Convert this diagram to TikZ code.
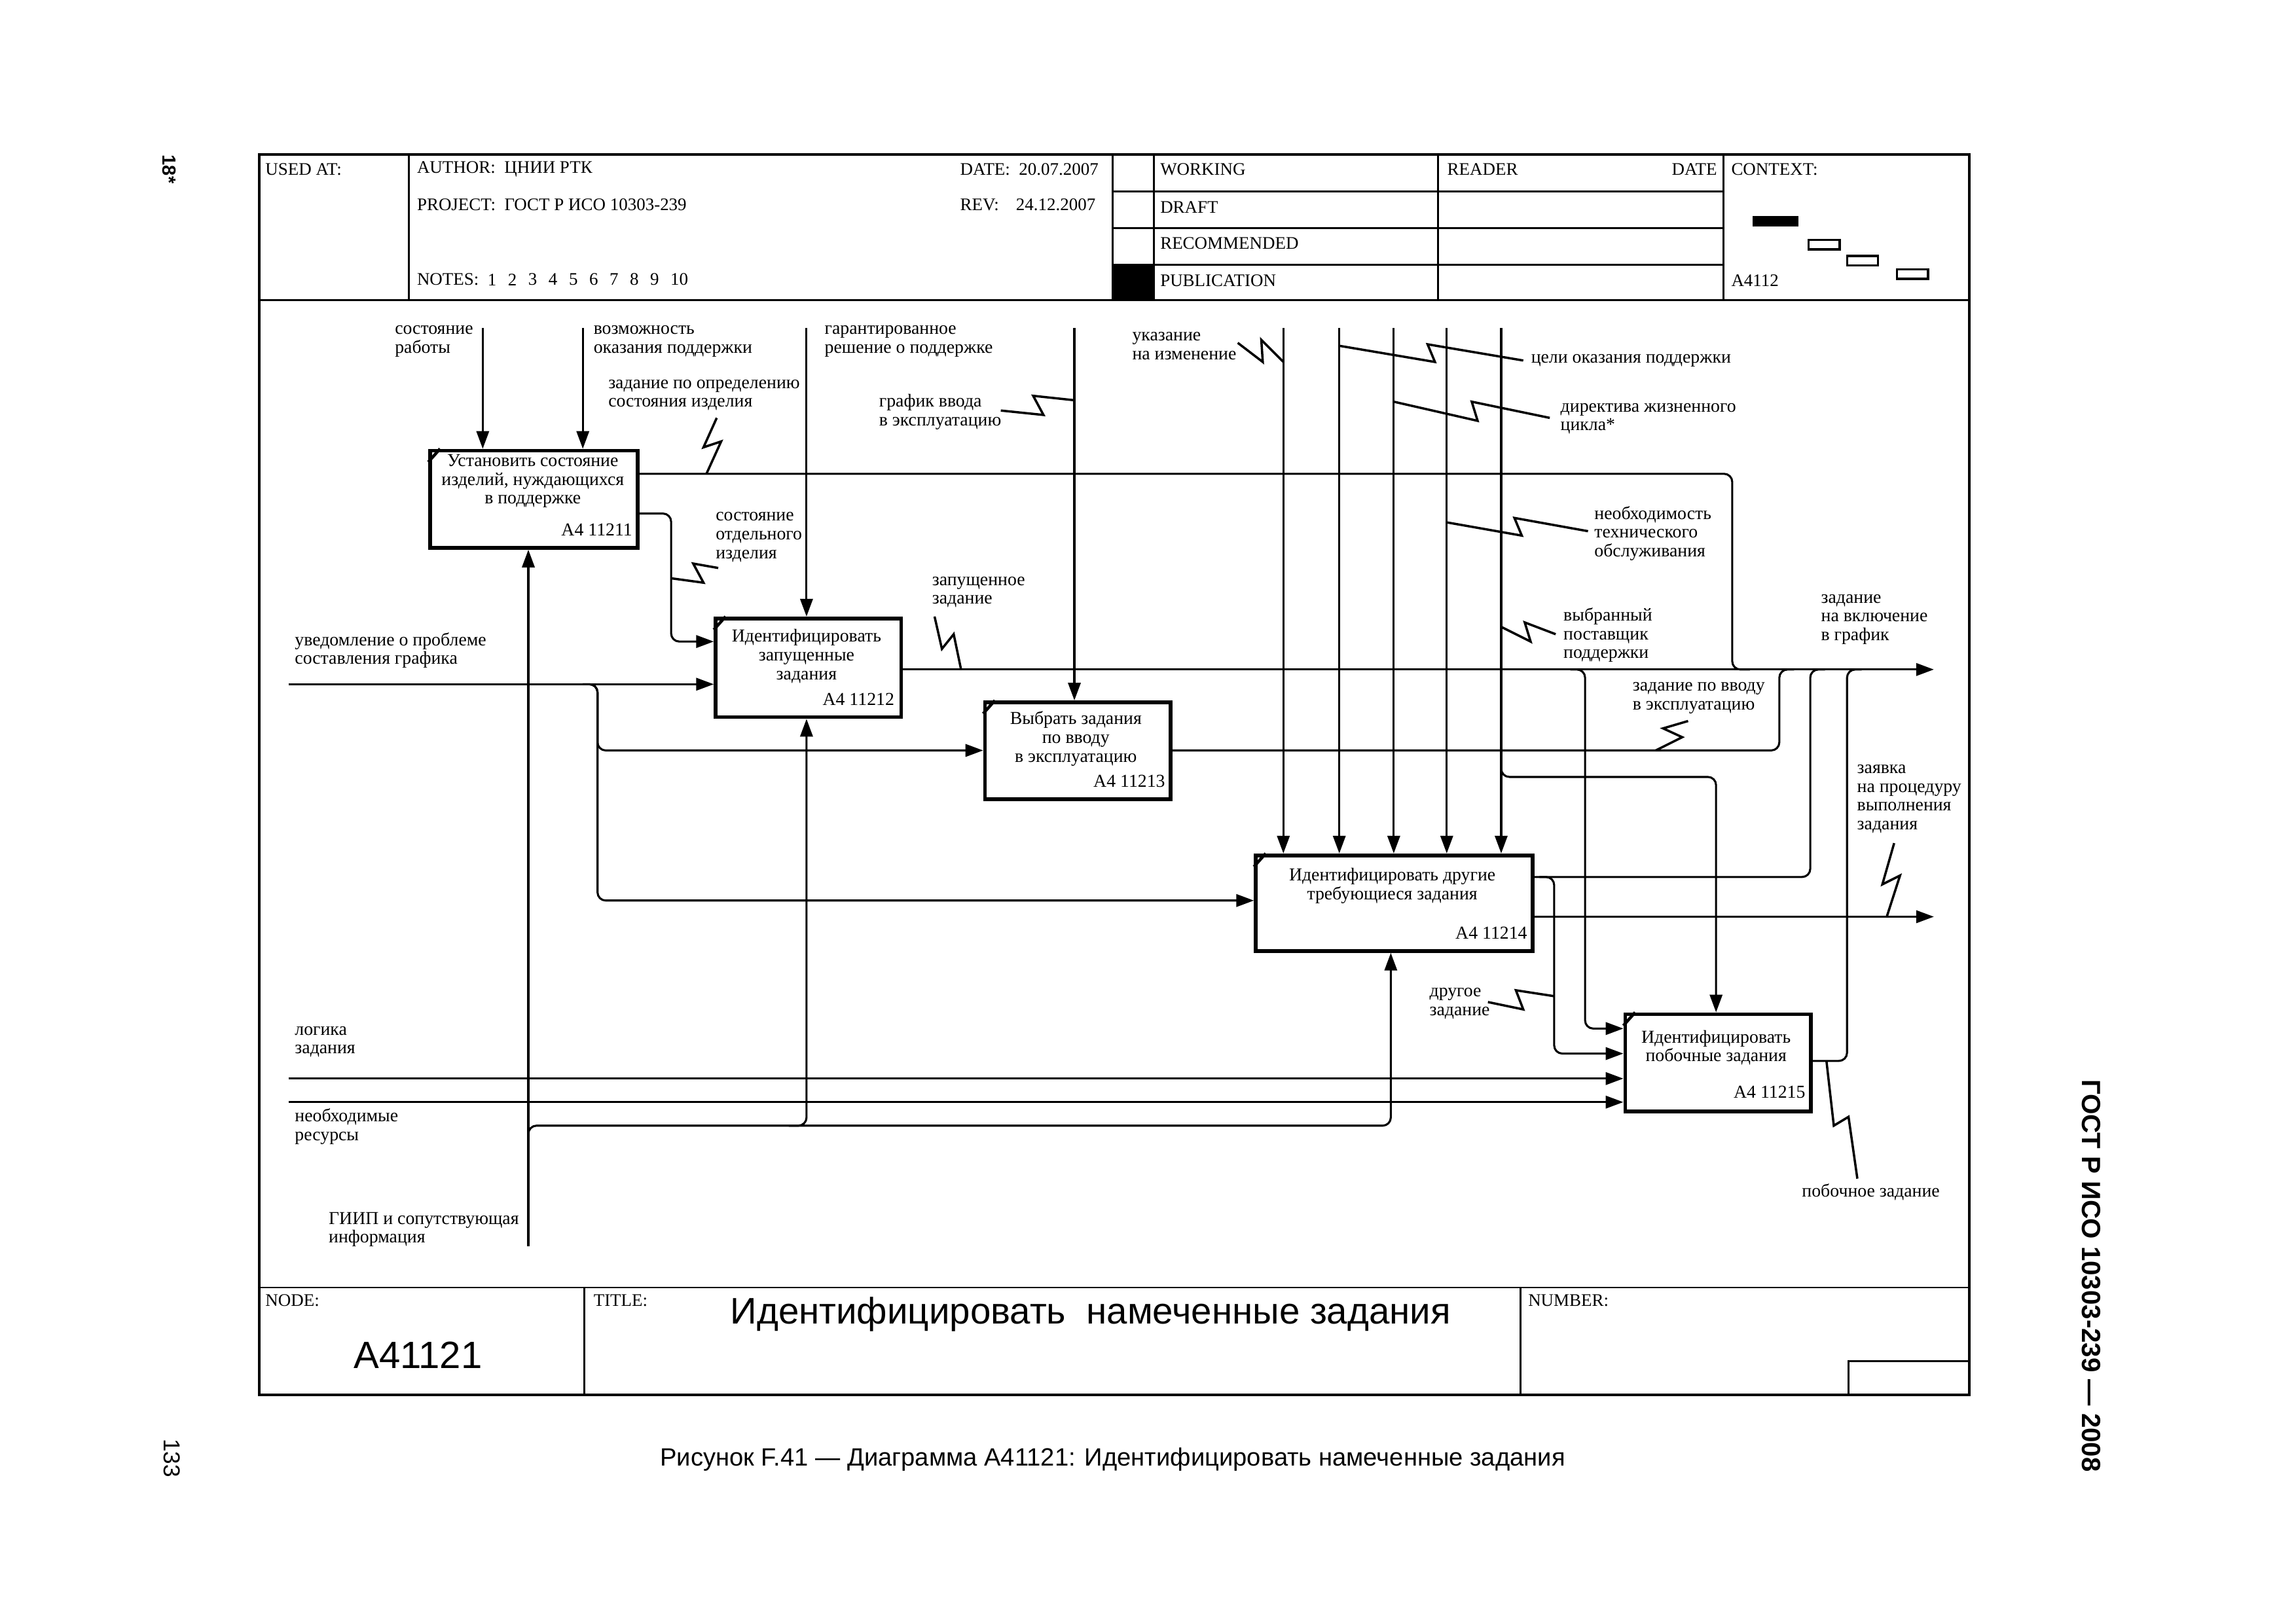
\documentclass[tikz,border=0pt]{standalone}
\usepackage{fontspec}
\setmainfont{Liberation Serif}
\newfontfamily\sansf{Liberation Sans}
\usetikzlibrary{arrows.meta}
\begin{document}
\begin{tikzpicture}[x=0.019038cm,y=-0.019038cm,
  lbl/.style={font=\fontsize{6.7}{6.9}\selectfont,inner sep=0pt,align=left,anchor=west},
  hdr/.style={font=\fontsize{6.5}{7}\selectfont,inner sep=0pt,anchor=west},
  pbox/.style={draw,line width=1.4pt,inner sep=0pt,anchor=north west},
  btxt/.style={font=\fontsize{6.7}{6.9}\selectfont,inner sep=0pt,align=center},
  bnum/.style={font=\fontsize{6.7}{6.9}\selectfont,inner sep=0pt,anchor=east},
  con/.style={line width=0.75pt,rounded corners=3pt},
  arr/.style={-{Triangle[length=6.5pt,width=4.6pt]}},
  sq/.style={line width=0.85pt},
  fr/.style={line width=1pt},
  hl/.style={line width=0.7pt},
  tick/.style={line width=1.1pt}]
\useasboundingbox (0,0) rectangle (1560.05,1102.3);

% ---------- frame and header ----------
\draw[fr] (176,105) rectangle (1338,948);
\draw[hl] (176,204) -- (1338,204);
\draw[hl] (176,875) -- (1338,875);
\foreach \xx in {278,756,784,977,1171} \draw[hl] (\xx,105) -- (\xx,204);
\foreach \yy in {130,155,180} \draw[hl] (756,\yy) -- (1171,\yy);
\fill (756,180) rectangle (784,204);
\fill (1191,147) rectangle (1222,154);
\draw[line width=0.8pt] (1229,163) rectangle (1250,169.5);
\draw[line width=0.8pt] (1255,174) rectangle (1276,180.5);
\draw[line width=0.8pt] (1289,183) rectangle (1310,189.5);

\node[hdr] (h1) at (180,115) {USED AT:};
\node[hdr] (h2) at (283,115) {AUTHOR:\ \ ЦНИИ РТК};
\node[hdr] (h3) at (652,115) {DATE:\ \ 20.07.2007};
\node[hdr] (h4) at (283,139) {PROJECT:\ \ ГОСТ Р ИСО 10303-239};
\node[hdr] (h5) at (652,139) {REV:};
\node[hdr] (h6) at (690,139) {24.12.2007};
\node[hdr] (h7) at (283,190) {NOTES:};
\foreach \k in {1,...,10} \node[hdr] (n\k) at ({331+(\k-1)*13.8},190) {\k};
\node[hdr] (h8) at (788,115) {WORKING};
\node[hdr] (h9) at (788,141) {DRAFT};
\node[hdr] (h10) at (788,165.5) {RECOMMENDED};
\node[hdr] (h11) at (788,190.5) {PUBLICATION};
\node[hdr] (h12) at (983,115) {READER};
\node[hdr,anchor=east] (h13) at (1167,115) {DATE};
\node[hdr] (h14) at (1176,115) {CONTEXT:};
\node[hdr] (h15) at (1176,190.5) {A4112};

% ---------- footer ----------
\draw[hl] (397,875) -- (397,948);
\draw[hl] (1033,875) -- (1033,948);
\draw[hl] (1256,948) -- (1256,925) -- (1338,925);
\node[hdr] (f1) at (180,884) {NODE:};
\node[hdr] (f2) at (403,884) {TITLE:};
\node[hdr] (f3) at (1038,884) {NUMBER:};
\node[inner sep=0pt,font=\sansf\fontsize{14}{16}\selectfont] (f4) at (284,921) {A41121};
\node[inner sep=0pt,font=\sansf\fontsize{13.6}{16}\selectfont] (f5) at (741,893) {Идентифицировать\ \ намеченные задания};
\node[inner sep=0pt,font=\sansf\fontsize{9.2}{11}\selectfont] (cap) at (756,992) {Рисунок F.41 — Диаграмма A41121: Идентифицировать намеченные задания};
\node[inner sep=0pt,rotate=-90,font=\sansf\bfseries\fontsize{7}{8}\selectfont] (s1) at (115,115) {18*};
\node[inner sep=0pt,rotate=-90,font=\sansf\fontsize{8.5}{9}\selectfont] (s2) at (117,991) {133};
\node[inner sep=0pt,rotate=-90,font=\sansf\bfseries\fontsize{9.7}{11}\selectfont] (s3) at (1421,867) {ГОСТ Р ИСО 10303-239 — 2008};

% ---------- boxes ----------
\node[pbox,minimum width={141*0.019038cm},minimum height={66*0.019038cm}] (b1) at (291,305) {};
\node[pbox,minimum width={126*0.019038cm},minimum height={67*0.019038cm}] (b2) at (485,419) {};
\node[pbox,minimum width={126*0.019038cm},minimum height={66*0.019038cm}] (b3) at (668,476) {};
\node[pbox,minimum width={188*0.019038cm},minimum height={65*0.019038cm}] (b4) at (852,580) {};
\node[pbox,minimum width={126*0.019038cm},minimum height={66*0.019038cm}] (b5) at (1103,688) {};
\draw[tick] (291,314) -- (299,305);
\draw[tick] (485,428) -- (493,419);
\draw[tick] (668,485) -- (676,476);
\draw[tick] (852,589) -- (860,580);
\draw[tick] (1103,697) -- (1111,688);

\node[btxt] (t1) at (362,327) {Установить состояние\\изделий, нуждающихся\\в поддержке};
\node[bnum] (u1) at (430,360) {A4 11211};
\node[btxt] (t2) at (548,446) {Идентифицировать\\запущенные\\задания};
\node[bnum] (u2) at (608,475) {A4 11212};
\node[btxt] (t3) at (731,502) {Выбрать задания\\по вводу\\в эксплуатацию};
\node[bnum] (u3) at (792,531) {A4 11213};
\node[btxt] (t4) at (946,602) {Идентифицировать другие\\требующиеся задания};
\node[bnum] (u4) at (1038,634) {A4 11214};
\node[btxt] (t5) at (1166,712) {Идентифицировать\\побочные задания};
\node[bnum] (u5) at (1227,742) {A4 11215};

% ---------- coordinates ----------
\coordinate (c1) at (328,223);
\coordinate (c2) at (396,223);
\coordinate (c3) at (548,223);
\coordinate (c4) at (730,223);
\coordinate (c5) at (872,223);
\coordinate (c6) at (910,223);
\coordinate (c7) at (947,223);
\coordinate (c8) at (983,223);
\coordinate (c9) at (1020,223);
\coordinate (k9) at (1020,520);
\coordinate (k9b) at (1166,528);
\coordinate (o1) at (1177,322);
\coordinate (mainR) at (1314,455);
\coordinate (o1b) at (456,349);
\coordinate (o1c) at (456,436);
\coordinate (in1) at (196,465);
\coordinate (j1) at (396,465);
\coordinate (j2) at (406,510);
\coordinate (j3) at (406,612);
\coordinate (m5s) at (1067,455);
\coordinate (m5) at (1077,699);
\coordinate (o3) at (1209,510);
\coordinate (o4) at (1230,596);
\coordinate (o4s) at (1046,596);
\coordinate (o4b) at (1056,716);
\coordinate (o4c) at (1314,623);
\coordinate (in2) at (196,733);
\coordinate (in3) at (196,749);
\coordinate (o5) at (1255,721);
\coordinate (g1) at (359,847);
\coordinate (r0) at (359,775);
\coordinate (r1) at (945,765);
\coordinate (r2s) at (536,765);
\coordinate (r2) at (548,765);

% ---------- controls ----------
\foreach \c/\b in {c1/b1,c2/b1,c3/b2,c4/b3,c5/b4,c6/b4,c7/b4,c8/b4,c9/b4}
  \draw[con,arr] (\c) -- (\c |- \b.north);
\draw[con,arr] (k9) -- (k9 |- k9b) -- (k9b) -- (k9b |- b5.north);

% ---------- outputs / inputs ----------
\draw[con] (b1.east |- o1) -- (o1) -- (o1 |- mainR) -- ++(12,0);
\draw[con,arr] (b1.east |- o1b) -- (o1b) -- (o1c) -- (o1c -| b2.west);
\draw[con,arr] (in1) -- (in1 -| b2.west);
\draw[con,arr] (j1) -- (j1 -| j2) -- (j2) -- (j2 -| b3.west);
\draw[con,arr] (j1) -- (j1 -| j3) -- (j3) -- (j3 -| b4.west);
\draw[con,arr] (b2.east |- mainR) -- (mainR);
\draw[con,arr] (m5s) -- (m5 |- m5s) -- (m5) -- (m5 -| b5.west);
\draw[con] (b3.east |- o3) -- (o3) -- (o3 |- mainR) -- ++(10,0);
\draw[con] (b4.east |- o4) -- (o4) -- (o4 |- mainR) -- ++(10,0);
\draw[con,arr] (o4s) -- (o4b |- o4s) -- (o4b) -- (o4b -| b5.west);
\draw[con,arr] (b4.east |- o4c) -- (o4c);
\draw[con,arr] (in2) -- (in2 -| b5.west);
\draw[con,arr] (in3) -- (in3 -| b5.west);
\draw[con] (b5.east |- o5) -- (o5) -- (o5 |- mainR) -- ++(10,0);

% ---------- mechanisms ----------
\draw[con,arr] (g1) -- (g1 |- b1.south);
\draw[con,arr] (r0) -- (r0 |- r1) -- (r1) -- (r1 |- b4.south);
\draw[con,arr] (r2s) -- (r2) -- (r2 |- b2.south);

% ---------- labels ----------
\node[lbl] (l1) at (268,232) {состояние\\работы};
\node[lbl] (l2) at (403,232) {возможность\\оказания поддержки};
\node[lbl] (l3) at (560,232) {гарантированное\\решение о поддержке};
\node[lbl] (l4) at (413,268.5) {задание по определению\\состояния изделия};
\node[lbl] (l5) at (597,280) {график ввода\\в эксплуатацию};
\node[lbl] (l6) at (769,235) {указание\\на изменение};
\node[lbl] (l7) at (1040,245) {цели оказания поддержки};
\node[lbl] (l8) at (1060,284.5) {директива жизненного\\цикла*};
\node[lbl] (l9) at (1083,362.5) {необходимость\\технического\\обслуживания};
\node[lbl] (l10) at (486,365) {состояние\\отдельного\\изделия};
\node[lbl] (l11) at (633,402.5) {запущенное\\задание};
\node[lbl] (l12) at (1062,431.5) {выбранный\\поставщик\\поддержки};
\node[lbl] (l13) at (1237,421) {задание\\на включение\\в график};
\node[lbl] (l14) at (200,442) {уведомление о проблеме\\составления графика};
\node[lbl] (l15) at (1109,474.5) {задание по вводу\\в эксплуатацию};
\node[lbl] (l16) at (1261.5,543) {заявка\\на процедуру\\выполнения\\задания};
\node[lbl] (l17) at (971,682) {другое\\задание};
\node[lbl] (l18) at (200,708) {логика\\задания};
\node[lbl] (l19) at (200,765.5) {необходимые\\ресурсы};
\node[lbl] (l20) at (223,835.5) {ГИИП и сопутствующая\\информация};
\node[lbl] (l21) at (1224,810) {побочное задание};

% ---------- squiggles ----------
\draw[sq] (487,284) -- (478,304) -- (490,300) -- (480,322);
\draw[sq] (680,279) -- (709,282) -- (702,269) -- (730,272);
\draw[sq] (841,233) -- (858,246) -- (857,231) -- (872,246);
\draw[sq] (910,235) -- (975,246) -- (970,234) -- (1035,245);
\draw[sq] (947,273) -- (1004,286) -- (1000,273) -- (1053,284);
\draw[sq] (983,355) -- (1034,364) -- (1029,352) -- (1079,361);
\draw[sq] (488,386) -- (471,383) -- (478,396) -- (456,393);
\draw[sq] (635,419) -- (640,441) -- (648,431) -- (653,455);
\draw[sq] (1020,426) -- (1040,436) -- (1036,423) -- (1057,431);
\draw[sq] (1125,510) -- (1143,501) -- (1130,495) -- (1147,490);
\draw[sq] (1282,623) -- (1291,595) -- (1279,601) -- (1287,573);
\draw[sq] (1011,681) -- (1035,686) -- (1030,673) -- (1056,677);
\draw[sq] (1241,721) -- (1246,765) -- (1256,759) -- (1262,801);
\end{tikzpicture}
\end{document}
